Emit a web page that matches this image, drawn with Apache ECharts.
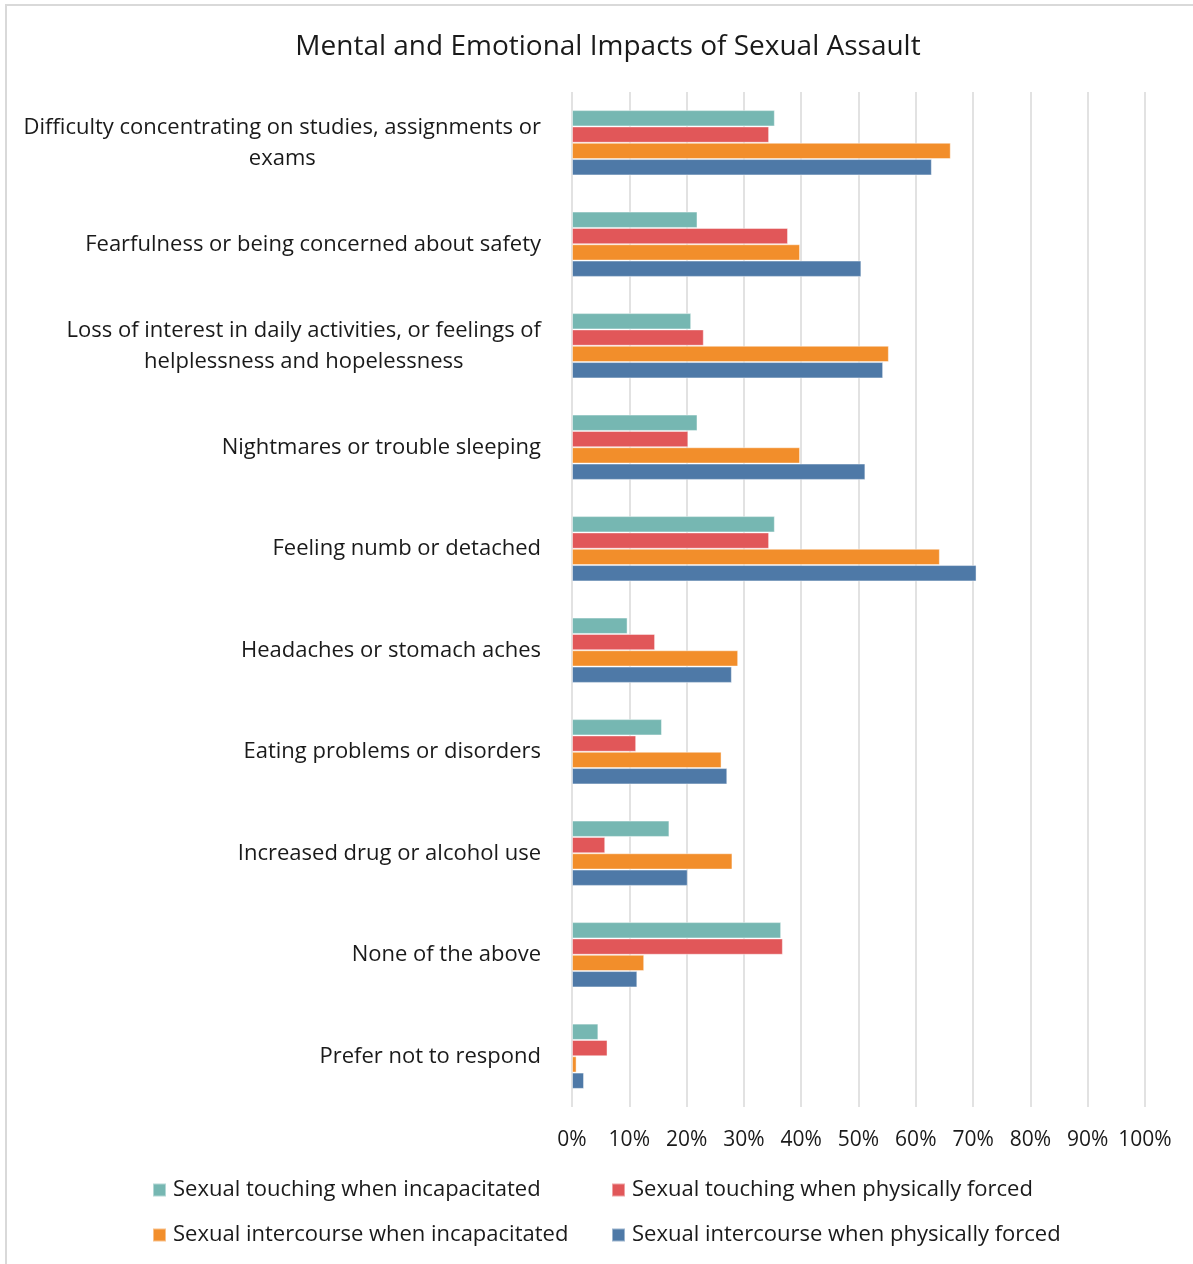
<!DOCTYPE html>
<html>
<head>
<meta charset="utf-8">
<script src="https://cdn.jsdelivr.net/npm/echarts@6/dist/echarts.min.js"></script>
<style>
html,body{margin:0;padding:0;background:#fff;}
#chart{width:1193px;height:1264px;}
</style>
</head>
<body>
<div id="chart"></div>
<script>
const titleText = 'Mental and Emotional Impacts of Sexual Assault';
const categories = [
  'Difficulty concentrating on studies, assignments or\nexams',
  'Fearfulness or being concerned about safety',
  'Loss of interest in daily activities, or feelings of\nhelplessness and hopelessness',
  'Nightmares or trouble sleeping',
  'Feeling numb or detached',
  'Headaches or stomach aches',
  'Eating problems or disorders',
  'Increased drug or alcohol use',
  'None of the above',
  'Prefer not to respond'
];
const seriesNames = [
  'Sexual touching when incapacitated',
  'Sexual touching when physically forced',
  'Sexual intercourse when incapacitated',
  'Sexual intercourse when physically forced'
];
const touchingIncapacitated = [35.4, 21.9, 20.8, 21.9, 35.4, 9.7, 15.7, 17.0, 36.5, 4.6];
const touchingForced        = [34.4, 37.7, 23.0, 20.3, 34.4, 14.5, 11.2, 5.8, 36.8, 6.2];
const intercourseIncapacitated = [66.1, 39.8, 55.3, 39.8, 64.2, 29.0, 26.1, 28.0, 12.6, 0.8];
const intercourseForced     = [62.8, 50.5, 54.3, 51.2, 70.6, 27.9, 27.1, 20.2, 11.4, 2.1];
const xTicks = [0, 10, 20, 30, 40, 50, 60, 70, 80, 90, 100];

const colors = ['#76b7b2', '#e15759', '#f28e2b', '#4e79a7'];
const seriesData = [touchingIncapacitated, touchingForced, intercourseIncapacitated, intercourseForced];
const FONT = '"Open Sans", "Noto Sans", sans-serif';
const textColor = '#1a1a1a';

const chart = echarts.init(document.getElementById('chart'));

const series = seriesNames.map((name, i) => ({
  name: name,
  type: 'bar',
  data: seriesData[i],
  barGap: '0%',
  barCategoryGap: '35.7%',
  itemStyle: { color: colors[i], borderColor: 'rgba(255,255,255,0.45)', borderWidth: 1 }
}));

const legendPos = [
  { left: 152, top: 1177 },
  { left: 611, top: 1177 },
  { left: 152, top: 1222 },
  { left: 611, top: 1222 }
];
const legends = seriesNames.map((name, i) => ({
  data: [name],
  left: legendPos[i].left,
  top: legendPos[i].top,
  orient: 'horizontal',
  padding: 0,
  itemWidth: 13,
  itemHeight: 13,
  icon: 'rect',
  selectedMode: false,
  textStyle: { fontFamily: FONT, fontSize: 22, color: textColor, lineHeight: 26, padding: [0, 0, 0, 2] }
}));

chart.setOption({
  backgroundColor: '#ffffff',
  animation: false,
  title: {
    text: titleText,
    left: 603,
    textAlign: 'center',
    top: 24,
    textStyle: { fontFamily: FONT, fontSize: 28, fontWeight: 'normal', color: textColor, lineHeight: 36 }
  },
  graphic: [{
    type: 'rect',
    shape: { x: 6, y: 5, width: 1400, height: 1400 },
    style: { fill: 'none', stroke: '#d9d9d9', lineWidth: 2 },
    silent: true, z: -10
  }],
  legend: legends,
  grid: { left: 572, right: 48, top: 92, bottom: 157, containLabel: false },
  xAxis: {
    type: 'value',
    min: 0,
    max: 100,
    interval: 10,
    axisLine: { show: false },
    axisTick: { show: false },
    splitLine: { show: true, lineStyle: { color: '#d9d9d9', width: 1.5 } },
    axisLabel: {
      margin: 23,
      fontFamily: FONT, fontSize: 21, color: textColor,
      formatter: v => xTicks.indexOf(v) >= 0 ? v + '%' : ''
    }
  },
  yAxis: {
    type: 'category',
    data: categories,
    inverse: true,
    axisLine: { show: false },
    axisTick: { show: false },
    splitLine: { show: false },
    axisLabel: {
      margin: 31,
      fontFamily: FONT, fontSize: 22, color: textColor, lineHeight: 31,
      formatter: function (v) {
        if (v.indexOf('\n') < 0) return v;
        return v.split('\n').map(s => '{c|' + s + '}').join('\n');
      },
      rich: {
        c: { align: 'center', fontFamily: FONT, fontSize: 22, color: textColor, lineHeight: 31 }
      }
    }
  },
  series: series
});
</script>
</body>
</html>
